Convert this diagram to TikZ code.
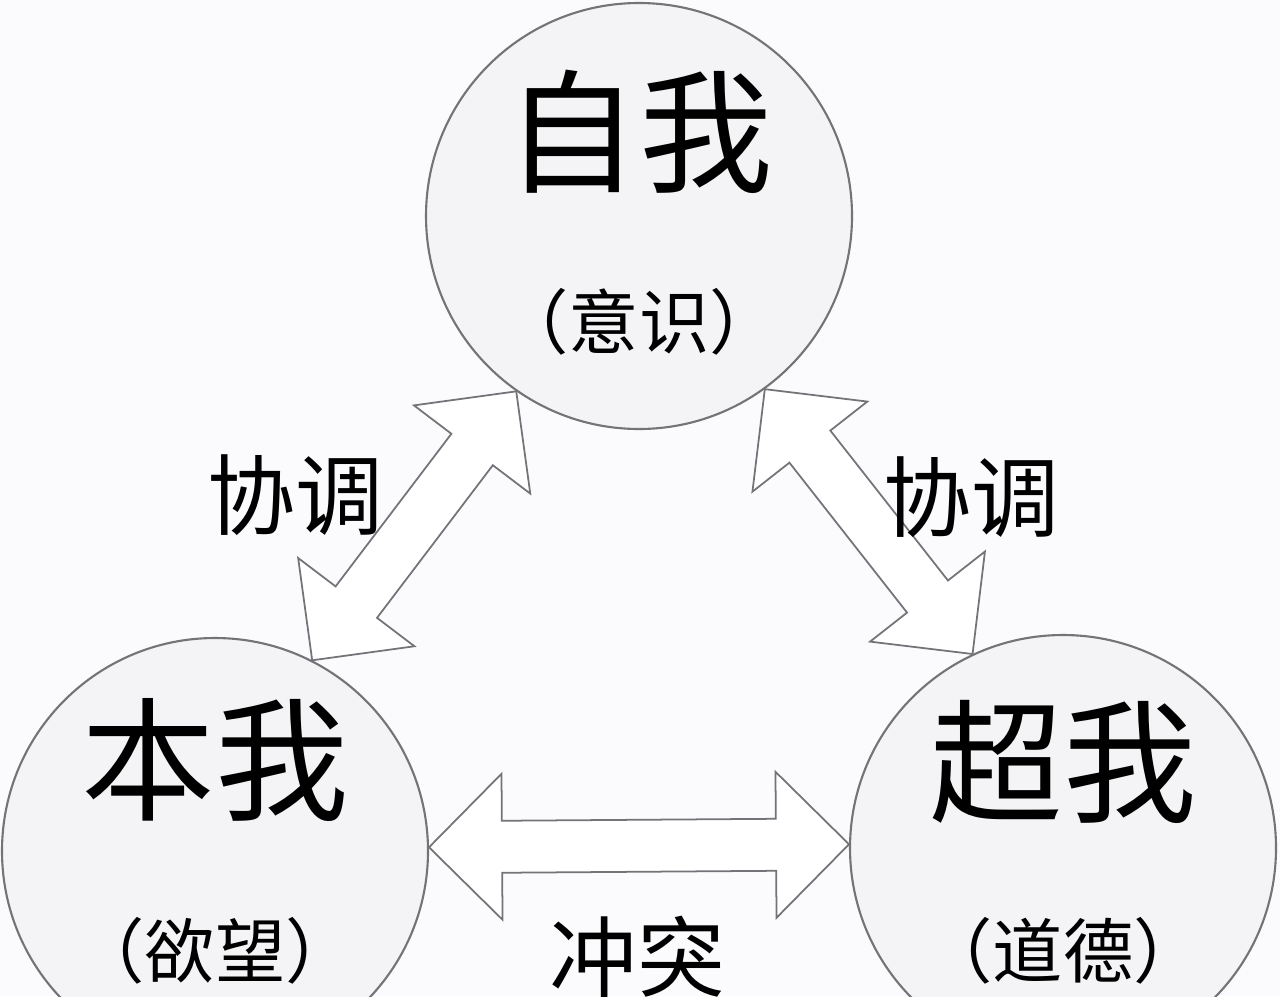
\documentclass[tikz,border=0pt]{standalone}
\usepackage{fontspec}
\setmainfont{Noto Sans CJK SC}
\usetikzlibrary{calc}

\definecolor{bgcol}{RGB}{251,251,253}
\definecolor{linecol}{RGB}{115,115,120}
\definecolor{ballcol}{RGB}{244,244,246}

\tikzset{
  bubble/.style={circle, draw=linecol, line width=0.6pt, fill=ballcol,
    minimum size=4.26cm, inner sep=0pt},
  bigtxt/.style={font=\fontsize{38}{40}\selectfont, inner sep=0pt},
  subtxt/.style={font=\fontsize{20}{22}\selectfont, inner sep=0pt},
  linktxt/.style={font=\fontsize{25}{27}\selectfont, inner sep=0pt},
  blockarrow/.style={draw=linecol, line width=0.5pt, fill=white, line join=miter},
}

% hollow double-headed block arrow between two points
\newcommand{\twoway}[2]{%
  \coordinate (h1) at ($(#1)!0.73cm!(#2)$);
  \coordinate (h2) at ($(#2)!0.73cm!(#1)$);
  \draw[blockarrow] (#1) -- ($(h1)!0.73cm!90:(#2)$) -- ($(h1)!0.26cm!90:(#2)$)
    -- ($(h2)!0.26cm!-90:(#1)$) -- ($(h2)!0.73cm!-90:(#1)$) -- (#2)
    -- ($(h2)!0.73cm!90:(#1)$) -- ($(h2)!0.26cm!90:(#1)$)
    -- ($(h1)!0.26cm!-90:(#2)$) -- ($(h1)!0.73cm!-90:(#2)$) -- cycle;
}

\begin{document}
\begin{tikzpicture}
    \useasboundingbox (0,0) rectangle (12.8,-9.96);
    \fill[bgcol] (0,0) rectangle (12.8,-9.96);

    % the three spheres
    \node[bubble] (ego) at (6.39,-2.16) {};
    \node[bubble] (id) at (2.15,-8.51) {};
    \node[bubble] (superego) at (10.63,-8.48) {};

    % arrows
    \coordinate (ego-l) at (ego.235.3);
    \coordinate (id-t) at (id.63.4);
    \coordinate (ego-r) at (ego.-54.7);
    \coordinate (superego-t) at (superego.115.5);
    \coordinate (id-r) at (id.1.6);
    \coordinate (superego-l) at (superego.179);
    \twoway{ego-l}{id-t}
    \twoway{ego-r}{superego-t}
    \twoway{id-r}{superego-l}

    % texts
    \node[bigtxt] (ego-name) at ([yshift=0.84cm]ego.center) {自我};
    \node[subtxt] (ego-note) at ([yshift=-1.06cm]ego.center) {（意识）};
    \node[bigtxt] (id-name) at ([yshift=0.91cm]id.center) {本我};
    \node[subtxt] (id-note) at ([yshift=-1.00cm]id.center) {（欲望）};
    \node[bigtxt] (superego-name) at ([yshift=0.86cm]superego.center) {超我};
    \node[subtxt] (superego-note) at ([yshift=-1.03cm]superego.center) {（道德）};

    \node[linktxt] (link-l) at (2.95,-4.95) {协调};
    \node[linktxt] (link-r) at (9.71,-4.97) {协调};
    \node[linktxt] (link-b) at (6.37,-9.57) {冲突};
\end{tikzpicture}
\end{document}
